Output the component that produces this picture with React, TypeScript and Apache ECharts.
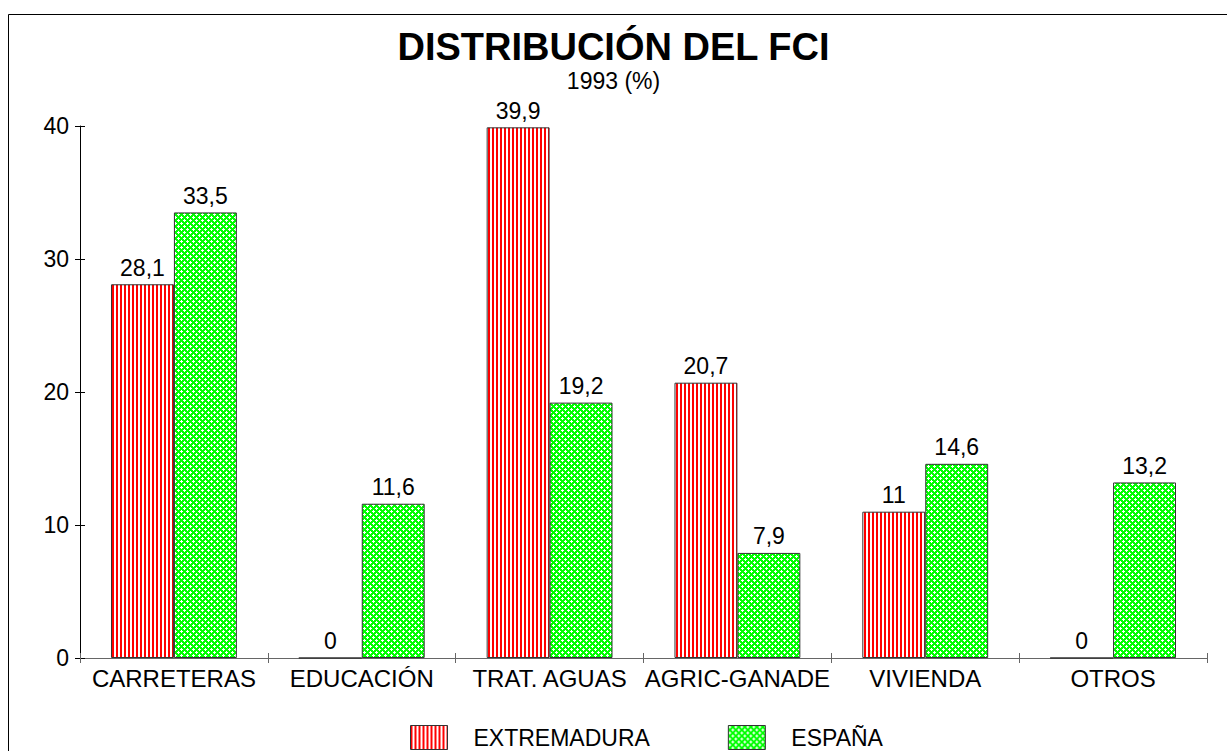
import React, { useEffect, useRef } from "react";
import * as echarts from "echarts";

const categories = ["CARRETERAS", "EDUCACIÓN", "TRAT. AGUAS", "AGRIC-GANADE", "VIVIENDA", "OTROS"];
const extremadura = [28.1, 0, 39.9, 20.7, 11, 0];
const espana = [33.5, 11.6, 19.2, 7.9, 14.6, 13.2];
const seriesNames = ["EXTREMADURA", "ESPAÑA"];
const yTicks = { min: 0, max: 40, interval: 10 };

const FONT = "Liberation Sans, Arial, sans-serif";

function makeStripe(): HTMLCanvasElement {
  const c = document.createElement("canvas");
  c.width = 4;
  c.height = 4;
  const ctx = c.getContext("2d")!;
  ctx.fillStyle = "#ffffff";
  ctx.fillRect(0, 0, 4, 4);
  ctx.fillStyle = "#ff0000";
  ctx.fillRect(0, 0, 2, 4);
  return c;
}

function makeHatch(): HTMLCanvasElement {
  const c = document.createElement("canvas");
  c.width = 6;
  c.height = 6;
  const ctx = c.getContext("2d")!;
  ctx.fillStyle = "#00ff00";
  ctx.fillRect(0, 0, 6, 6);
  ctx.fillStyle = "#ffffff";
  const plus = (x: number, y: number) => {
    const pts = [[0, 0], [1, 0], [-1, 0], [0, 1], [0, -1]];
    pts.forEach(([dx, dy]) => {
      const px = (x + dx + 6) % 6;
      const py = (y + dy + 6) % 6;
      ctx.fillRect(px, py, 1, 1);
    });
  };
  plus(1, 1);
  plus(4, 4);
  return c;
}

export default function App() {
  const ref = useRef<HTMLDivElement>(null);
  useEffect(() => {
    if (!ref.current) return;
    const chart = echarts.init(ref.current, undefined, { renderer: "svg" });
    const stripe = { image: makeStripe(), repeat: "repeat" } as any;
    const hatch = { image: makeHatch(), repeat: "repeat" } as any;
    const fmt = (p: any) => String(p.value).replace(".", ",");
    const labelStyle = {
      show: true,
      position: "top",
      distance: 5,
      fontSize: 23,
      color: "#000",
      fontFamily: FONT,
      formatter: fmt,
    };
    chart.setOption({
      animation: false,
      backgroundColor: "#fff",
      textStyle: { fontFamily: FONT },
      graphic: [
        {
          type: "rect",
          shape: { x: 8.5, y: 14.5, width: 1230, height: 760 },
          style: { fill: "none", stroke: "#000", lineWidth: 1 },
          silent: true,
        },
      ],
      title: [
        {
          text: "DISTRIBUCIÓN DEL FCI",
          left: "center",
          top: 23,
          textStyle: { fontSize: 38, fontWeight: "bold", color: "#000", fontFamily: FONT },
        },
        {
          text: "1993 (%)",
          left: "center",
          top: 64,
          textStyle: { fontSize: 23, fontWeight: "normal", color: "#000", fontFamily: FONT },
        },
      ],
      legend: {
        left: 405,
        top: 720,
        itemWidth: 37,
        itemHeight: 24,
        itemGap: 78,
        icon: "rect",
        data: [
          { name: seriesNames[0], itemStyle: { color: stripe, borderColor: "#333", borderWidth: 1 } },
          { name: seriesNames[1], itemStyle: { color: hatch, borderColor: "#333", borderWidth: 1 } },
        ],
        textStyle: { fontSize: 23, color: "#000", padding: [0, 0, 0, 21], fontFamily: FONT },
      },
      grid: { left: 80, right: 20, top: 126, bottom: 93, containLabel: false },
      xAxis: [
        {
          type: "category",
          data: categories,
          axisLine: { show: true, lineStyle: { color: "#666", width: 1 } },
          axisTick: { show: true, length: 5, lineStyle: { color: "#666" } },
          axisLabel: { fontSize: 24, color: "#000", margin: 8, interval: 0, fontFamily: FONT },
        },
        {
          type: "category",
          data: categories,
          position: "bottom",
          axisLine: { show: false },
          axisTick: { show: true, inside: true, length: 5, lineStyle: { color: "#666" } },
          axisLabel: { show: false },
        },
      ],
      yAxis: [
        {
          type: "value",
          min: yTicks.min,
          max: yTicks.max,
          interval: yTicks.interval,
          splitLine: { show: false },
          axisLine: { show: true, lineStyle: { color: "#000", width: 1 } },
          axisTick: { show: true, length: 5, lineStyle: { color: "#000" } },
          axisLabel: { fontSize: 23, color: "#000", margin: 11, fontFamily: FONT },
        },
        {
          type: "value",
          min: yTicks.min,
          max: yTicks.max,
          interval: yTicks.interval,
          position: "left",
          splitLine: { show: false },
          axisLine: { show: false },
          axisTick: { show: true, inside: true, length: 5, lineStyle: { color: "#000" } },
          axisLabel: { show: false },
        },
      ],
      series: [
        {
          name: seriesNames[0],
          type: "bar",
          data: extremadura,
          barGap: "0%",
          barCategoryGap: "33%",
          itemStyle: { color: stripe, borderColor: "#333", borderWidth: 1 },
          label: labelStyle,
        },
        {
          name: seriesNames[1],
          type: "bar",
          data: espana,
          barGap: "0%",
          barCategoryGap: "33%",
          itemStyle: { color: hatch, borderColor: "#333", borderWidth: 1 },
          label: labelStyle,
        },
      ],
    });
    return () => chart.dispose();
  }, []);
  return (
    <div
      ref={ref}
      style={{ position: "absolute", left: 0, top: 0, width: 1227, height: 751 }}
    />
  );
}
